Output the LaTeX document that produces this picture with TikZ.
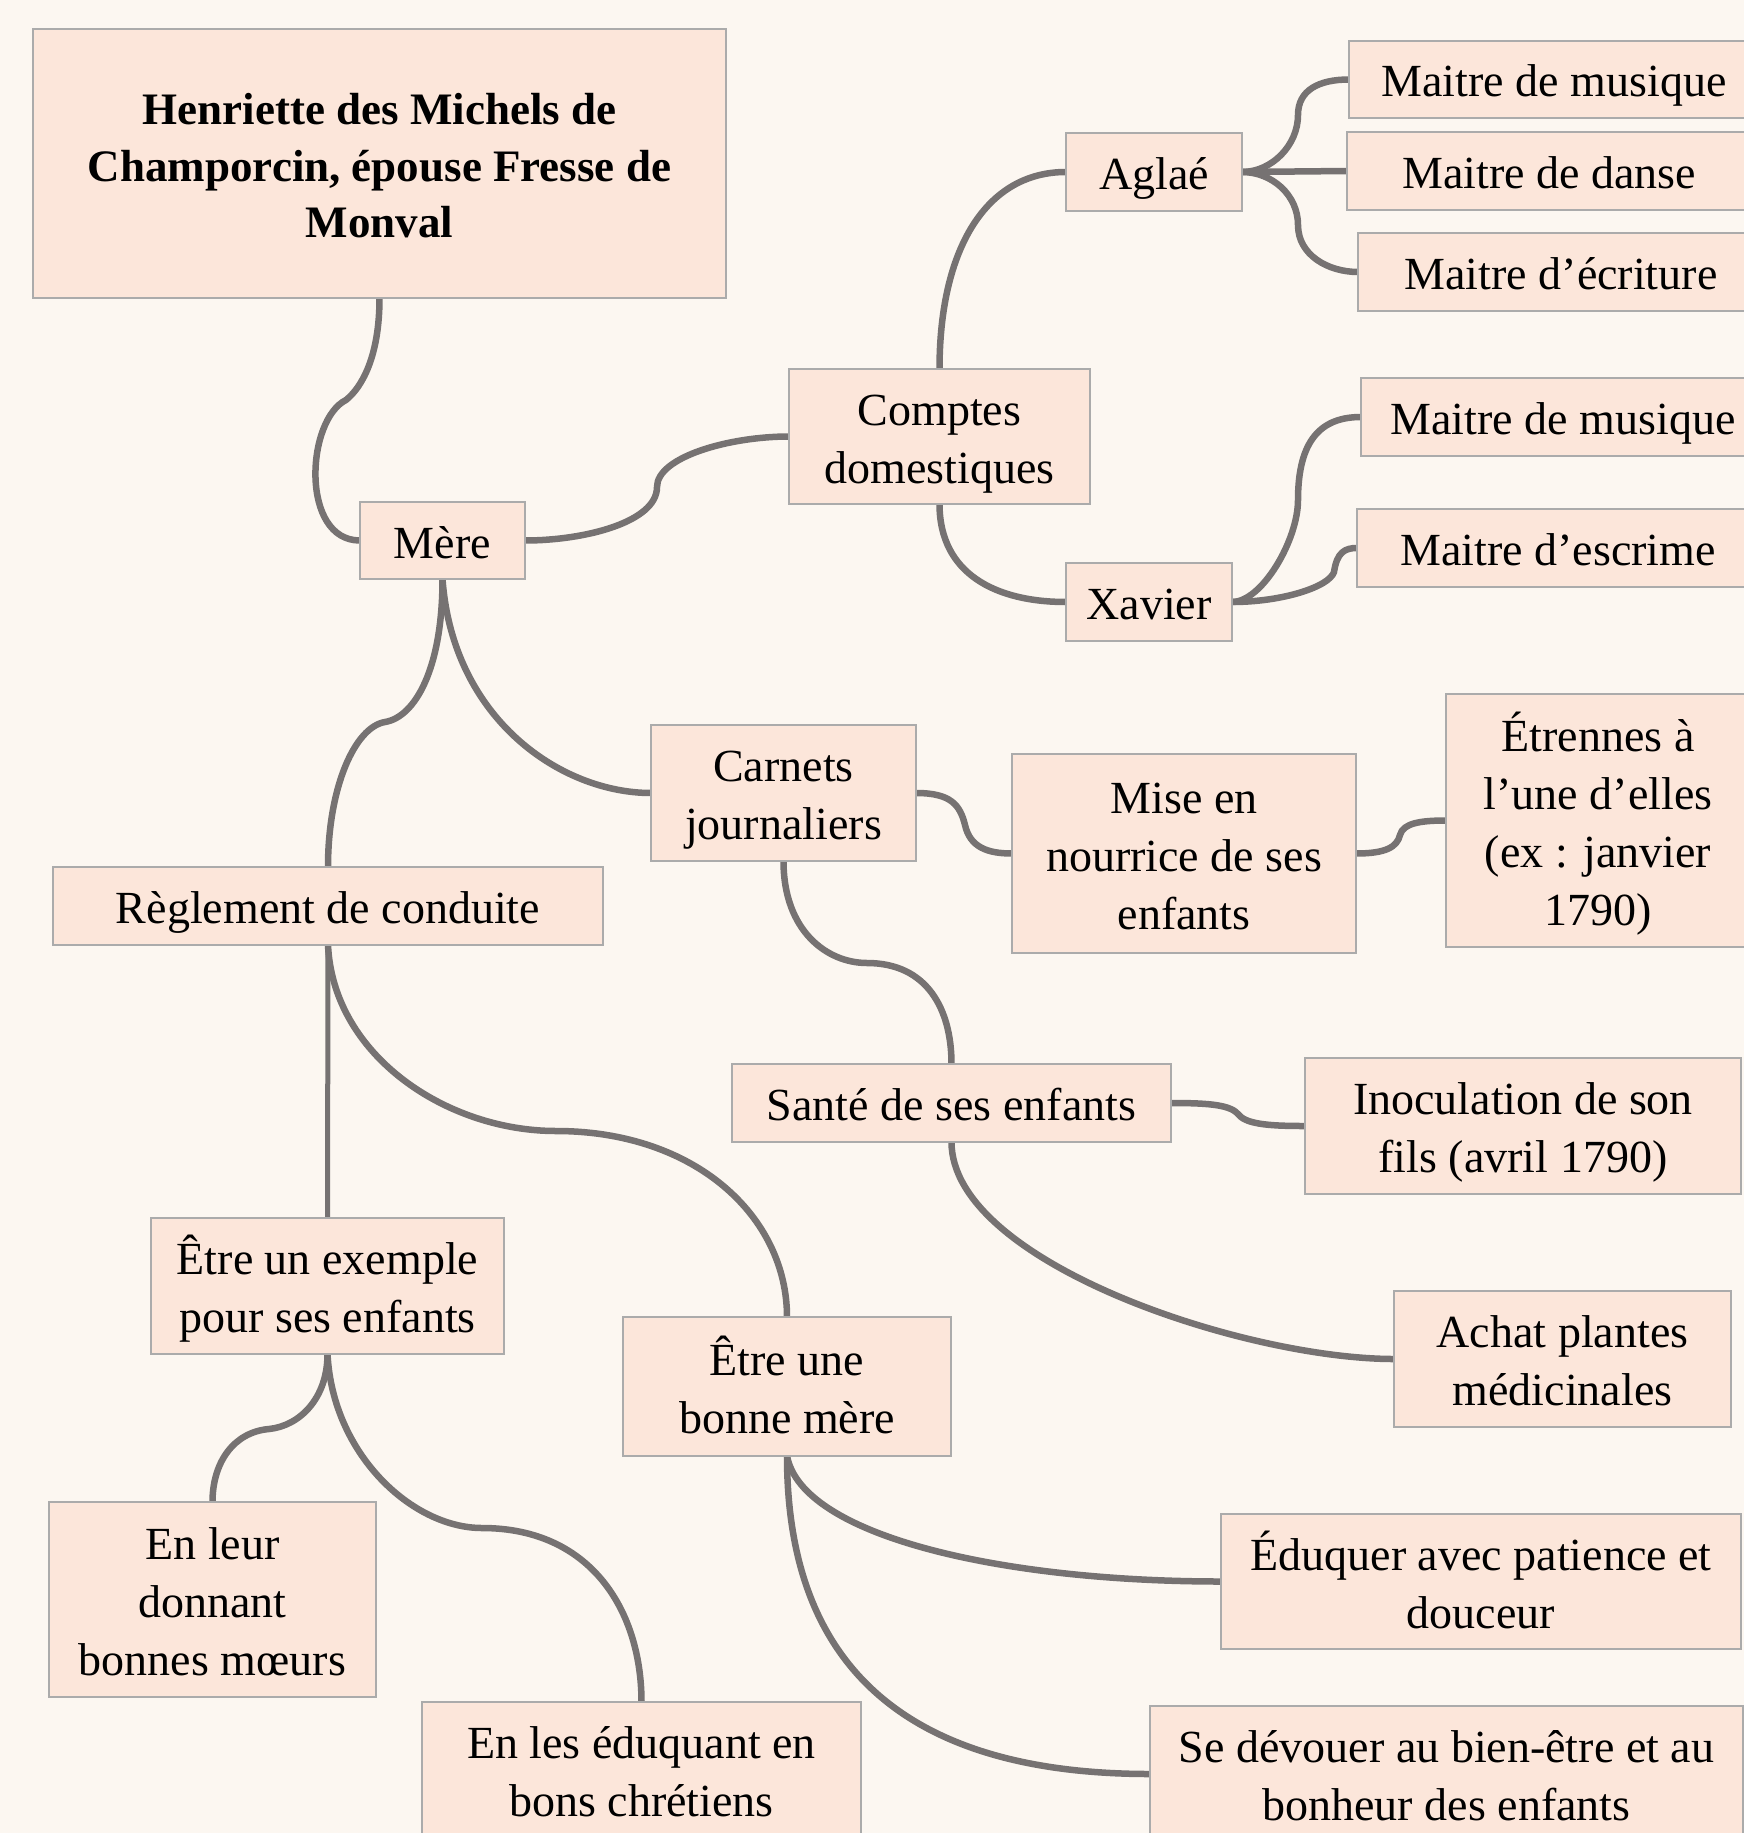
\documentclass[tikz,border=0pt]{standalone}
\usepackage{fontspec}
\setmainfont{Liberation Serif}
\usepackage{tikz}
\pgfdeclarelayer{background}
\pgfsetlayers{background,main}
\definecolor{fond}{HTML}{FCF7F1}
\definecolor{peche}{HTML}{FCE6DA}
\definecolor{bord}{HTML}{ABABAB}
\definecolor{trait}{HTML}{767272}
\newcommand\haut{\rule{0pt}{47pt}}
\tikzset{
  boite/.style={draw=bord, line width=2pt, fill=peche, inner sep=0pt, outer sep=0pt, align=center, font=\fontsize{46}{58}\selectfont,
    execute at end node={\rule[-12pt]{0pt}{12pt}}},
  un/.style={boite, minimum height=78pt},
  deux/.style={boite, minimum height=136pt},
  branche/.style={draw=trait, line width=6.5pt, line cap=round}
}

\begin{document}
\begin{tikzpicture}[x=1pt,y=-1pt]
\useasboundingbox (0,0) rectangle (1744,1833);
\node[boite, font=\bfseries\fontsize{45}{56.5}\selectfont, minimum width=693pt, minimum height=269pt] (titre) at (379.5,163.5) {\haut Henriette des Michels de\\Champorcin, épouse Fresse de\\Monval};
\node[un, minimum width=165pt, minimum height=77pt] (mere) at (442.5,540.5) {\haut Mère};
\node[deux, minimum width=301pt, minimum height=135pt] (comptes) at (939.5,436.5) {\haut Comptes\\domestiques};
\node[un, minimum width=176pt] (aglae) at (1154,172) {\haut Aglaé};
\node[un, minimum width=410pt, minimum height=77pt] (musiquea) at (1554,79.5) {\haut Maitre de musique};
\node[un, minimum width=404pt] (danse) at (1549,171) {\haut Maitre de danse};
\node[un, minimum width=406pt] (ecriture) at (1561,272) {\haut Maitre d’écriture};
\node[un, minimum width=404pt] (musiqueb) at (1563,417) {\haut Maitre de musique};
\node[un, minimum width=402pt] (escrime) at (1558,548) {\haut Maitre d’escrime};
\node[un, minimum width=166pt] (xavier) at (1149,602) {\haut Xavier};
\node[deux, minimum width=265pt] (carnets) at (783.5,793) {\haut Carnets\\journaliers};
\node[un, minimum width=550pt] (reglement) at (328,906) {\haut Règlement de conduite};
\node[boite, minimum width=344pt, minimum height=199pt] (nourrice) at (1184,853.5) {\haut Mise en\\nourrice de ses\\enfants};
\node[boite, minimum width=304pt, minimum height=253pt] (etrennes) at (1598,820.5) {\haut Étrennes à\\l’une d’elles\\(ex : janvier\\1790)};
\node[un, minimum width=439pt] (sante) at (951.5,1103) {\haut Santé de ses enfants};
\node[deux, minimum width=436pt] (inoculation) at (1523,1126) {\haut Inoculation de son\\fils (avril 1790)};
\node[deux, minimum width=337pt] (achat) at (1562.5,1359) {\haut Achat plantes\\médicinales};
\node[deux, minimum width=353pt] (exemple) at (327.5,1286) {\haut Être un exemple\\pour ses enfants};
\node[deux, minimum width=328pt, minimum height=139pt] (bonnemere) at (787,1386.5) {\haut Être une\\bonne mère};
\node[boite, minimum width=327pt, minimum height=195pt] (moeurs) at (212.5,1599.5) {\haut En leur\\donnant\\bonnes mœurs};
\node[deux, minimum width=439pt] (chretiens) at (641.5,1770) {\haut En les éduquant en\\bons chrétiens};
\node[deux, minimum width=520pt, minimum height=135pt] (eduquer) at (1481,1581.5) {\haut Éduquer avec patience et\\douceur};
\node[deux, minimum width=593pt] (devouer) at (1446.5,1774) {\haut Se dévouer au bien-être et au\\bonheur des enfants};
\begin{pgfonlayer}{background}
\fill[fond] (0,0) rectangle (1744,1833);
\draw[branche] (titre.south) .. controls +(0,60) and +(15,-12) .. (346,400) .. controls +(-40,20) and +(-60,0) .. (mere.west);
\draw[branche] (mere.east) .. controls +(60,0) and +(0,35) .. (657,487) .. controls +(0,-30) and +(-60,0) .. (comptes.west);
\draw[branche] (comptes.north) .. controls +(0,-120) and +(-80,0) .. (aglae.west);
\draw[branche] (comptes.south) .. controls +(0,70) and +(-70,0) .. (xavier.west);
\draw[branche] (aglae.east) .. controls +(30,0) and +(0,30) .. (1298,115) .. controls +(0,-25) and +(-30,0) .. (musiquea.west);
\draw[branche] (aglae.east) -- (danse.west);
\draw[branche] (aglae.east) .. controls +(30,0) and +(0,-30) .. (1298,225) .. controls +(0,30) and +(-30,0) .. (ecriture.west);
\draw[branche] (xavier.east) .. controls +(30,0) and +(0,40) .. (1298,500) .. controls +(0,-60) and +(-40,0) .. (musiqueb.west);
\draw[branche] (xavier.east) .. controls +(50,0) and +(-5,15) .. (1334,572) .. controls +(3,-20) and +(-12,0) .. (escrime.west);
\draw[branche] (mere.south) .. controls +(0,90) and +(30,-5) .. (385,722) .. controls +(-30,5) and +(0,-80) .. (reglement.north);
\draw[branche] (mere.south) .. controls +(10,140) and +(-90,0) .. (carnets.west);
\draw[branche] (carnets.east) .. controls +(35,0) and +(-5,-20) .. (965,825) .. controls +(5,22) and +(-25,0) .. (nourrice.west);
\draw[branche] (nourrice.east) .. controls +(30,0) and +(-3,12) .. (1400,835) .. controls +(3,-12) and +(-25,0) .. (etrennes.west);
\draw[branche] (carnets.south) .. controls +(0,70) and +(-40,0) .. (867,963) .. controls +(60,0) and +(0,-55) .. (sante.north);
\draw[branche] (sante.east) .. controls +(40,0) and +(-8,-10) .. (1239,1115) .. controls +(8,10) and +(-30,0) .. (inoculation.west);
\draw[branche] (sante.south) .. controls +(0,120) and +(-150,0) .. (achat.west);
\draw[branche, line width=5pt] (reglement.south) -- (exemple.north);
\draw[branche] (reglement.south) .. controls +(5,110) and +(-110,0) .. (556,1131) .. controls +(140,0) and +(0,-100) .. (bonnemere.north);
\draw[branche] (exemple.south) .. controls +(0,45) and +(30,-3) .. (269,1429) .. controls +(-35,3) and +(0,-40) .. (moeurs.north);
\draw[branche] (exemple.south) .. controls +(5,100) and +(-70,0) .. (482,1528) .. controls +(110,0) and +(0,-90) .. (chretiens.north);
\draw[branche] (bonnemere.south) .. controls +(15,80) and +(-220,0) .. (eduquer.west);
\draw[branche] (bonnemere.south) .. controls +(0,230) and +(-220,0) .. (devouer.west);
\end{pgfonlayer}
\end{tikzpicture}
\end{document}
